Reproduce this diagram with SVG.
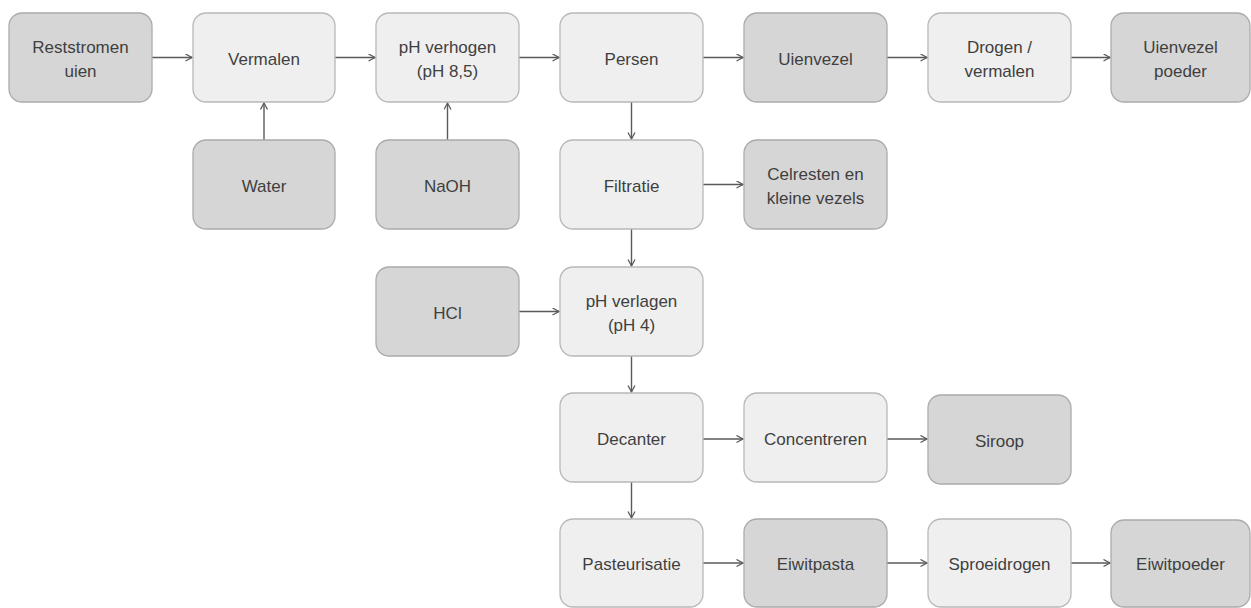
<svg xmlns="http://www.w3.org/2000/svg" width="1251" height="608" viewBox="0 0 1251 608">
<defs>
<style>
.l{fill:#efefef;stroke:#b8b8b8;stroke-width:1.3}
.d{fill:#d6d6d6;stroke:#ababab;stroke-width:1.3}
text{font-family:"Liberation Sans",Arial,sans-serif;font-size:17px;fill:#3f3f3f;text-anchor:middle}
.c{fill:none;stroke:#5a5a5a;stroke-width:1.4}
</style>
<marker id="a" markerUnits="userSpaceOnUse" markerWidth="10" markerHeight="10" refX="7" refY="4" orient="auto">
<path d="M0.5,0.5 L7,4 L0.5,7.5" fill="none" stroke="#5a5a5a" stroke-width="1.3"/>
</marker>
</defs>
<rect width="1251" height="608" fill="#ffffff"/>
<g id="connectors" class="c" marker-end="url(#a)">
<line x1="152" y1="57.5" x2="192" y2="57.5"/>
<line x1="335" y1="57.5" x2="375" y2="57.5"/>
<line x1="519" y1="57.5" x2="559" y2="57.5"/>
<line x1="703" y1="57.5" x2="743" y2="57.5"/>
<line x1="887" y1="57.5" x2="927" y2="57.5"/>
<line x1="1071" y1="57.5" x2="1110" y2="57.5"/>
<line x1="264" y1="140" x2="264" y2="103"/>
<line x1="447.5" y1="140" x2="447.5" y2="103"/>
<line x1="631.5" y1="102" x2="631.5" y2="139"/>
<line x1="703" y1="184.5" x2="743" y2="184.5"/>
<line x1="631.5" y1="229" x2="631.5" y2="266"/>
<line x1="519" y1="311.5" x2="559" y2="311.5"/>
<line x1="631.5" y1="356" x2="631.5" y2="392"/>
<line x1="703" y1="439" x2="743" y2="439"/>
<line x1="887" y1="439" x2="927" y2="439"/>
<line x1="631.5" y1="482" x2="631.5" y2="518"/>
<line x1="703" y1="563" x2="743" y2="563"/>
<line x1="887" y1="563" x2="927" y2="563"/>
<line x1="1071" y1="563" x2="1110" y2="563"/>
</g>
<g id="reststromen"><rect class="d" x="9" y="13" width="143" height="89" rx="13"/><text x="80.5" y="53">Reststromen</text><text x="80.5" y="77">uien</text></g>
<g id="vermalen"><rect class="l" x="193" y="13" width="142" height="89" rx="13"/><text x="264" y="64.5">Vermalen</text></g>
<g id="phverhogen"><rect class="l" x="376" y="13" width="143" height="89" rx="13"/><text x="447.5" y="53">pH verhogen</text><text x="447.5" y="77">(pH 8,5)</text></g>
<g id="persen"><rect class="l" x="560" y="13" width="143" height="89" rx="13"/><text x="631.5" y="64.5">Persen</text></g>
<g id="uienvezel"><rect class="d" x="744" y="13" width="143" height="89" rx="13"/><text x="815.5" y="64.5">Uienvezel</text></g>
<g id="drogen"><rect class="l" x="928" y="13" width="143" height="89" rx="13"/><text x="999.5" y="53">Drogen /</text><text x="999.5" y="77">vermalen</text></g>
<g id="uienvezelpoeder"><rect class="d" x="1111" y="13" width="139" height="89" rx="13"/><text x="1180.5" y="53">Uienvezel</text><text x="1180.5" y="77">poeder</text></g>
<g id="water"><rect class="d" x="193" y="140" width="142" height="89" rx="13"/><text x="264" y="191.5">Water</text></g>
<g id="naoh"><rect class="d" x="376" y="140" width="143" height="89" rx="13"/><text x="447.5" y="191.5">NaOH</text></g>
<g id="filtratie"><rect class="l" x="560" y="140" width="143" height="89" rx="13"/><text x="631.5" y="191.5">Filtratie</text></g>
<g id="celresten"><rect class="d" x="744" y="140" width="143" height="89" rx="13"/><text x="815.5" y="180">Celresten en</text><text x="815.5" y="204">kleine vezels</text></g>
<g id="hcl"><rect class="d" x="376" y="267" width="143" height="89" rx="13"/><text x="447.5" y="318.5">HCl</text></g>
<g id="phverlagen"><rect class="l" x="560" y="267" width="143" height="89" rx="13"/><text x="631.5" y="307">pH verlagen</text><text x="631.5" y="331">(pH 4)</text></g>
<g id="decanter"><rect class="l" x="560" y="393" width="143" height="89" rx="13"/><text x="631.5" y="444.5">Decanter</text></g>
<g id="concentreren"><rect class="l" x="744" y="393" width="143" height="89" rx="13"/><text x="815.5" y="444.5">Concentreren</text></g>
<g id="siroop"><rect class="d" x="928" y="395" width="143" height="89" rx="13"/><text x="999.5" y="446.5">Siroop</text></g>
<g id="pasteurisatie"><rect class="l" x="560" y="519" width="143" height="88" rx="13"/><text x="631.5" y="570">Pasteurisatie</text></g>
<g id="eiwitpasta"><rect class="d" x="744" y="519" width="143" height="88" rx="13"/><text x="815.5" y="570">Eiwitpasta</text></g>
<g id="sproeidrogen"><rect class="l" x="928" y="519" width="143" height="88" rx="13"/><text x="999.5" y="570">Sproeidrogen</text></g>
<g id="eiwitpoeder"><rect class="d" x="1111" y="520" width="139" height="87" rx="13"/><text x="1180.5" y="570">Eiwitpoeder</text></g>
</svg>
